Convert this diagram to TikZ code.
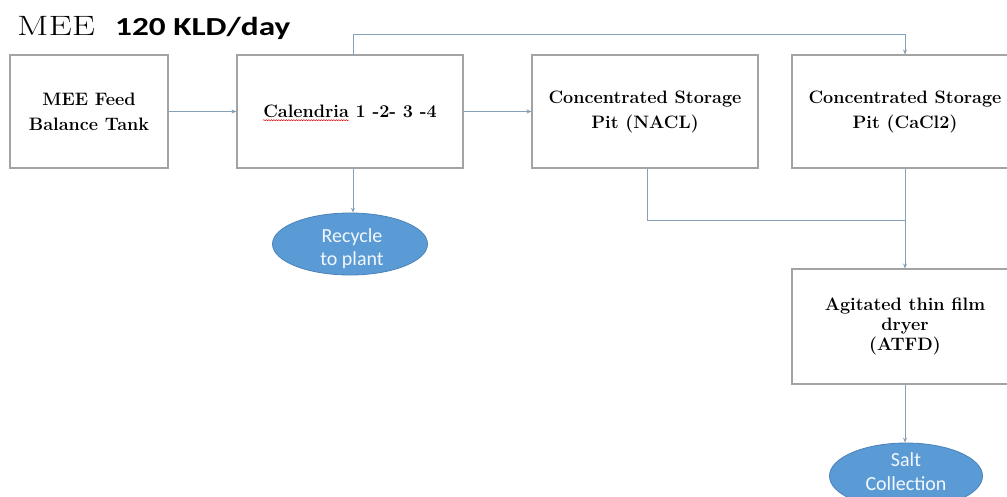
\documentclass[tikz,border=0pt]{standalone}
\usepackage{fontspec}
\newfontfamily\calib{Carlito}
\usetikzlibrary{arrows.meta,decorations.pathmorphing,shapes.geometric}
\definecolor{boxline}{HTML}{A3A3A3}
\definecolor{conn}{HTML}{86A0B8}
\definecolor{ellfill}{HTML}{5B9BD5}
\definecolor{elldraw}{HTML}{4A82B8}
\newcommand\boxfont{\fontsize{18}{25}\selectfont\bfseries}
\tikzset{
  procbox/.style={draw=boxline, line width=1.1pt, fill=white, minimum width=226pt, minimum height=113pt, align=center, inner sep=2pt, font=\boxfont},
  outell/.style={ellipse, draw=elldraw, line width=0.8pt, fill=ellfill, minimum width=155pt, minimum height=62pt, inner sep=0pt},
  elltext/.style={anchor=base, inner sep=0pt, text=white!92!ellfill, font=\calib\fontsize{20}{22}\selectfont},
  conn/.style={draw=conn, line width=0.9pt, -{Stealth[length=5pt,width=4pt]}},
  connp/.style={draw=conn, line width=0.9pt}
}
\begin{document}
\newlength\calw
\settowidth\calw{\boxfont Calendria}
\begin{tikzpicture}[x=1pt,y=-1pt]
\useasboundingbox[fill=white] (0,0) rectangle (1007,496);
\node[anchor=base west, inner sep=0pt, font=\fontsize{28}{30}\selectfont] (ttl) at (17,35) {\scalebox{1.32}[1]{MEE}};
\node[anchor=base west, inner sep=0pt, font=\calib\bfseries\fontsize{26}{28}\selectfont] (ttl2) at (115,35) {\scalebox{1.28}[1]{120 KLD/day}};
\node[procbox, minimum width=158pt] (b1) at (89,111.5) {MEE Feed\\Balance Tank};
\node[procbox] (b2) at (350,111.5) {};
\node[procbox] (b3) at (645,111.5) {Concentrated Storage\\Pit (NACL)};
\node[procbox] (b4) at (905,111.5) {Concentrated Storage\\Pit (CaCl2)};
\node[procbox, minimum height=115pt, font=\fontsize{18}{20}\selectfont\bfseries] (b5) at (905,326.5) {Agitated thin film\\dryer\\(ATFD)};
\node[outell] (e1) at (350,244) {};
\node[elltext] (e1a) at (352,242) {Recycle};
\node[elltext] (e1b) at (352,265) {to plant};
\node[outell, minimum height=66pt, minimum width=153pt] (e2) at (906,476) {};
\node[elltext] (e2a) at (906,466) {Salt};
\node[elltext] (e2b) at (906,490) {Collection};
% Calendria text with spell-check underline
\node[inner sep=0pt, font=\boxfont] (cal) at (350,111) {Calendria 1 -2- 3 -4};
\draw[red!85!black, line width=0.5pt, decorate, decoration={snake, amplitude=0.5pt, segment length=2.5pt}] ([yshift=-3pt]cal.base west) -- ++(\calw,0);
% connectors
\draw[conn] (b1.east) -- (b2.west);
\draw[conn] (b2.east) -- (b3.west);
\coordinate (t1) at (353,34);
\draw[conn] (b2.north -| t1) -- (t1) -| (b4.north);
\draw[conn] (b2.south -| t1) -- (e1.north -| t1);
\coordinate (j) at (905,220);
\draw[connp] ([xshift=2pt]b3.south) |- (j);
\draw[conn] (b4.south) -- (b5.north);
\draw[conn] (b5.south) -- (e2.north -| b5.south);
\end{tikzpicture}
\end{document}
